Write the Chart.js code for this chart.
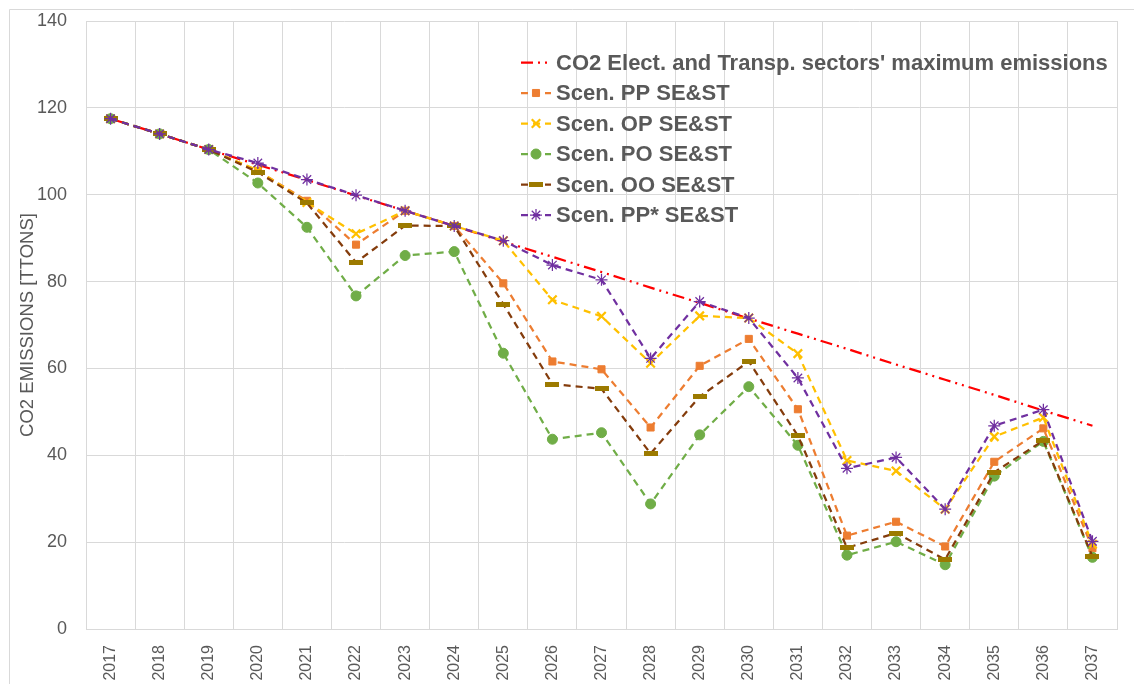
<!DOCTYPE html>
<html>
<head>
<meta charset="utf-8">
<script src="https://cdn.jsdelivr.net/npm/chart.js@4.4.1/dist/chart.umd.min.js"></script>
<style>
  html, body { margin: 0; padding: 0; background: #ffffff; }
  #wrap { position: relative; width: 1134px; height: 684px; }
</style>
</head>
<body>
<div id="wrap"><canvas id="c" width="1134" height="684"></canvas></div>
<script>
const years = ['2017','2018','2019','2020','2021','2022','2023','2024','2025','2026','2027','2028','2029','2030','2031','2032','2033','2034','2035','2036','2037'];
const maxEmissions = [117.5,114.0,110.4,106.9,103.4,99.8,96.3,92.8,89.2,85.7,82.2,78.6,75.1,71.5,68.0,64.5,60.9,57.4,53.9,50.3,46.8];
const scenPP     = [117.5,114.0,110.4,105.5,98.6,88.5,96.3,92.8,79.6,61.6,59.8,46.4,60.6,66.8,50.6,21.5,24.7,19.0,38.5,46.2,18.6];
const scenOP     = [117.5,114.0,110.4,105.6,98.2,91.0,96.3,92.8,89.4,75.8,72.0,61.2,72.1,71.6,63.4,38.8,36.4,27.6,44.3,48.7,19.5];
const scenPO     = [117.5,114.0,110.4,102.7,92.5,76.7,86.0,86.9,63.5,43.7,45.2,28.8,44.7,55.8,42.3,17.0,20.1,14.8,35.2,43.2,16.5];
const scenOO     = [117.5,114.0,110.4,105.2,98.1,84.4,92.9,92.8,74.8,56.4,55.3,40.4,53.5,61.6,44.5,18.7,22.1,16.0,36.1,43.4,16.7];
const scenPPstar = [117.5,114.0,110.4,107.3,103.5,99.9,96.3,92.8,89.4,83.8,80.4,62.3,75.4,71.6,57.8,37.0,39.5,27.6,46.8,50.5,20.2];
const yTicks = [0,20,40,60,80,100,120,140];
const legendLabels = ["CO2 Elect. and Transp. sectors' maximum emissions","Scen. PP SE&ST","Scen. OP SE&ST","Scen. PO SE&ST","Scen. OO SE&ST","Scen. PP* SE&ST"];

// custom bar marker for OO series
const barMarker = document.createElement('canvas');
barMarker.width = 14; barMarker.height = 5;
(function(){ const g = barMarker.getContext('2d'); g.fillStyle = '#9C7A00'; g.fillRect(0,0,14,5); })();

const TEXT = '#595959';
const GRID = '#d9d9d9';

const datasets = [
  { label: legendLabels[0], data: maxEmissions, borderColor: '#FF0000', backgroundColor: '#FF0000', borderWidth: 2.25,
    borderDash: [12,5,2,5,2,5], pointRadius: 0, order: 5 },
  { label: legendLabels[1], data: scenPP, borderColor: '#ED7D31', backgroundColor: '#ED7D31', borderWidth: 2.25,
    borderDash: [7,5], pointStyle: 'rect', pointRadius: 5, pointBorderWidth: 1, pointBackgroundColor: '#ED7D31', pointBorderColor: '#ED7D31', order: 4 },
  { label: legendLabels[2], data: scenOP, borderColor: '#FFC000', backgroundColor: '#FFC000', borderWidth: 2.25,
    borderDash: [7,5], pointStyle: 'crossRot', pointRadius: 6, pointBorderWidth: 2.25, pointBorderColor: '#FFC000', order: 3 },
  { label: legendLabels[3], data: scenPO, borderColor: '#70AD47', backgroundColor: '#70AD47', borderWidth: 2.25,
    borderDash: [7,5], pointStyle: 'circle', pointRadius: 5, pointBorderWidth: 1, pointBackgroundColor: '#70AD47', pointBorderColor: '#70AD47', order: 2 },
  { label: legendLabels[4], data: scenOO, borderColor: '#843C0C', backgroundColor: '#9C7A00', borderWidth: 2.25,
    borderDash: [7,5], pointStyle: barMarker, pointRadius: 7, order: 1 },
  { label: legendLabels[5], data: scenPPstar, borderColor: '#7030A0', backgroundColor: '#7030A0', borderWidth: 2.25,
    borderDash: [7,5], pointStyle: 'star', pointRadius: 6, pointBorderWidth: 1.25, pointBorderColor: '#7030A0', order: 0 }
];

const frameAndLegend = {
  id: 'frameAndLegend',
  beforeDraw(chart) {
    const ctx = chart.ctx;
    ctx.save();
    ctx.fillStyle = '#ffffff';
    ctx.fillRect(0, 0, chart.width, chart.height);
    ctx.strokeStyle = GRID;
    ctx.lineWidth = 1;
    ctx.beginPath();
    ctx.moveTo(9.5, chart.height + 2);
    ctx.lineTo(9.5, 9.5);
    ctx.lineTo(chart.width + 2, 9.5);
    ctx.stroke();
    ctx.restore();
  },
  afterDatasetsDraw(chart) {
    const ctx = chart.ctx;
    const x0 = 521, x1 = 551, xm = 536, tx = 556;
    const y0 = 62.5, dy = 30.5;
    ctx.save();
    ctx.font = 'bold 22px "Liberation Sans", Arial, sans-serif';
    ctx.textBaseline = 'middle';
    ctx.textAlign = 'left';
    chart.data.datasets.forEach((ds, i) => {
      const y = y0 + i * dy;
      ctx.save();
      ctx.strokeStyle = ds.borderColor;
      ctx.lineWidth = ds.borderWidth;
      ctx.setLineDash(ds.borderDash || []);
      ctx.beginPath();
      ctx.moveTo(x0, y);
      ctx.lineTo(x1, y);
      ctx.stroke();
      ctx.restore();
      if (ds.pointRadius > 0) {
        ctx.save();
        ctx.fillStyle = ds.pointBackgroundColor || ds.backgroundColor;
        ctx.strokeStyle = ds.pointBorderColor || ds.borderColor;
        ctx.lineWidth = ds.pointBorderWidth || 1;
        ctx.setLineDash([]);
        Chart.helpers.drawPoint(ctx, {pointStyle: ds.pointStyle, radius: ds.pointRadius, rotation: 0, borderWidth: ctx.lineWidth}, xm, y);
        ctx.restore();
      }
      ctx.fillStyle = TEXT;
      ctx.fillText(ds.label, tx, y + 1);
    });
    ctx.restore();
  }
};

new Chart(document.getElementById('c'), {
  type: 'line',
  data: { labels: years, datasets: datasets },
  options: {
    responsive: false,
    animation: false,
    devicePixelRatio: 1,
    layout: { padding: { left: 0, right: 17, top: 21, bottom: 0 } },
    plugins: { legend: { display: false }, tooltip: { enabled: false } },
    elements: { line: { tension: 0, fill: false } },
    scales: {
      x: {
        type: 'category',
        offset: true,
        grid: { color: GRID, lineWidth: 1, offset: true, drawTicks: false },
        border: { color: GRID, width: 1 },
        ticks: {
          color: TEXT,
          font: { family: '"Liberation Sans", Arial, sans-serif', size: 16 },
          minRotation: 90, maxRotation: 90, padding: 16, autoSkip: false
        },
        afterFit(scale) { scale.height = 55; scale.paddingTop = 0; scale.paddingBottom = 0; scale.paddingLeft = 0; scale.paddingRight = 0; }
      },
      y: {
        min: 0, max: 140,
        afterBuildTicks(scale) { scale.ticks = yTicks.map(v => ({ value: v })); },
        grid: { color: GRID, lineWidth: 1, drawTicks: false },
        border: { color: GRID, width: 1 },
        ticks: {
          color: TEXT,
          font: { family: '"Liberation Sans", Arial, sans-serif', size: 18 },
          padding: 19
        },
        title: {
          display: true,
          text: 'CO2 EMISSIONS [TTONS]',
          color: TEXT,
          font: { family: '"Liberation Sans", Arial, sans-serif', size: 18.5 },
          padding: { top: 17, bottom: 0 }
        },
        afterFit(scale) { scale.width = 86; scale.paddingTop = 0; scale.paddingBottom = 0; }
      }
    }
  },
  plugins: [frameAndLegend]
});
</script>
</body>
</html>
